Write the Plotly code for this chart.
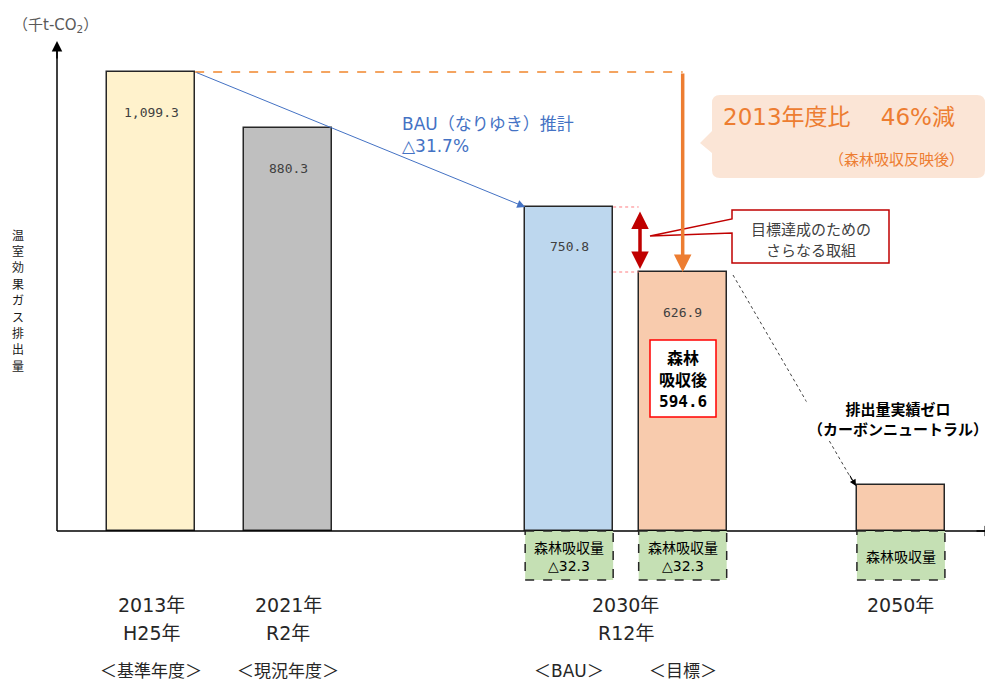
import plotly.graph_objects as go

# ---------------- data ----------------
categories = ["2013年", "2021年", "2030年 BAU", "2030年 目標", "2050年"]
emission_labels = ["1,099.3", "880.3", "750.8", "626.9", ""]
# drawn (schematic) bar heights, in 千t-CO2 scale
bar_heights = [1099.3, 965.0, 776.0, 620.3, 110.0]
bar_positions = [1.07, 2.63, 5.82, 7.11, 9.59]
bar_colors = ["#FFF2CC", "#BFBFBF", "#BDD7EE", "#F8CBAD", "#F8CBAD"]
absorption_labels = ["", "", "森林吸収量<br>△32.3", "森林吸収量<br>△32.3", "森林吸収量"]
year_labels = ["2013年", "2021年", "2030年", "2050年"]
era_labels = ["H25年", "R2年", "R12年"]
type_labels = ["＜基準年度＞", "＜現況年度＞", "＜BAU＞", "＜目標＞"]
bau_text = ["BAU（なりゆき）推計", "△31.7%"]
target_text = ["2013年度比　 46%減", "（森林吸収反映後）"]
after_absorption = ["森林", "吸収後", "594.6"]
extra_effort = ["目標達成のための", "さらなる取組"]
zero_text = "排出量実績ゼロ<br>（カーボンニュートラル）"
y_title = "温室効果ガス排出量"
unit_label = "（千t-CO<sub>2</sub>）"

# ---------------- geometry helpers (page pixels -> axis units) ----------------
PAGE_W, PAGE_H = 993, 684
OFF = 8                      # browser body margin
FW, FH = PAGE_W - OFF, PAGE_H - OFF
KX = 88.0            # one bar width in pixels
X0 = 57.0            # page pixel x of the vertical axis
KY = 1099.3 / 459.0  # value units per pixel
Y0 = 531.0           # page pixel y of the baseline


def X(px):
    return (px - X0) / KX


def Y(py):
    return (Y0 - py) * KY


def P(px, py):
    return f"{X(px):.4f},{Y(py):.4f}"


FONT = "DejaVu Sans, Noto Sans CJK JP, sans-serif"
CJK = "Noto Sans CJK JP, sans-serif"
MONO = "DejaVu Sans Mono, monospace"
DARK = "#262626"
ORANGE = "#ED7D31"
BLUE = "#4472C4"
RED = "#C00000"

fig = go.Figure()
fig.add_trace(go.Bar(
    x=bar_positions, y=bar_heights, width=1.0,
    marker=dict(color=bar_colors, line=dict(color="#262626", width=1.5)),
    hoverinfo="skip", showlegend=False,
))

shapes = []
ann = []


def text(x, y, s, size, color=DARK, family=FONT, bold=False, xanchor="center",
         align="center", **kw):
    if bold:
        s = "<b>" + s + "</b>"
    d = dict(x=x, y=y, xref="x", yref="y", text=s, showarrow=False,
             font=dict(size=size, color=color, family=family),
             xanchor=xanchor, yanchor="middle", align=align)
    d.update(kw)
    ann.append(d)


def arrow(x, y, ax, ay, color, width, size, **kw):
    d = dict(x=x, y=y, ax=ax, ay=ay, xref="x", yref="y", axref="x", ayref="y",
             text="", showarrow=True, arrowhead=2, arrowsize=size,
             arrowwidth=width, arrowcolor=color, font=dict(size=10))
    d.update(kw)
    ann.append(d)


# axes with arrows
shapes.append(dict(type="line", x0=0, y0=0, x1=0, y1=Y(50), xref="x", yref="y",
                   line=dict(color="black", width=1.5)))
shapes.append(dict(type="line", x0=0, y0=0, x1=X(985), y1=0, xref="x", yref="y",
                   line=dict(color="black", width=1.5)))
arrow(0, Y(41), 0, Y(60), "black", 1.5, 1.4)
arrow(X(995), 0, X(975), 0, "black", 1.5, 1.4)

# unit label and vertical title (upright stacked characters)
text(X(55), Y(25), unit_label, 15, color="#595959")
for i, ch in enumerate(y_title):
    text(X(18), Y(234 + i * 16.4), ch, 12, color="#1a1a1a", family=CJK, borderpad=0)

# bar value labels
for xp, h, lab in zip(bar_positions, bar_heights, emission_labels):
    if lab:
        text(xp, h - 40 * KY, lab, 13, color="#404040", family=MONO)

# forest absorption boxes (below baseline)
box_bottom = Y(580)
for xp, lab in zip(bar_positions, absorption_labels):
    if not lab:
        continue
    shapes.append(dict(type="rect", x0=xp - 0.5, x1=xp + 0.5, y0=0, y1=box_bottom,
                       xref="x", yref="y", fillcolor="#C5E0B4",
                       line=dict(color="#262626", width=1.5, dash="dash")))
    text(xp, Y(556.5), lab, 14, color="black", family=FONT)

# BAU trend arrow (blue)
arrow(bar_positions[2] - 0.5, bar_heights[2], bar_positions[0] + 0.5, bar_heights[0],
      BLUE, 1, 1.6)
text(X(400), Y(135), "<br>".join(bau_text), 17, color=BLUE, xanchor="left", align="left")

# orange dashed reference line and big arrow
shapes.append(dict(type="line", x0=bar_positions[0] + 0.5, y0=bar_heights[0],
                   x1=bar_positions[3], y1=bar_heights[0], xref="x", yref="y",
                   line=dict(color="#F4A460", width=2, dash="dash")))
arrow(bar_positions[3], bar_heights[3], bar_positions[3], bar_heights[0], ORANGE, 3.5, 1.0)

# orange callout
r = 8
call = (f"M {P(712 + r, 95)} L {P(985 - r, 95)} Q {P(985, 95)} {P(985, 95 + r)} "
        f"L {P(985, 178 - r)} Q {P(985, 178)} {P(985 - r, 178)} "
        f"L {P(712 + r, 178)} Q {P(712, 178)} {P(712, 178 - r)} "
        f"L {P(712, 153)} L {P(700, 143)} L {P(712, 131)} "
        f"L {P(712, 95 + r)} Q {P(712, 95)} {P(712 + r, 95)} Z")
shapes.append(dict(type="path", path=call, xref="x", yref="y",
                   fillcolor="#FBE5D6", line=dict(width=0)))
text(X(721), Y(117), target_text[0], 23, color=ORANGE, xanchor="left")
text(X(966), Y(160), target_text[1], 15, color=ORANGE, xanchor="right")

# red gap markers
for h in (bar_heights[2], bar_heights[3]):
    shapes.append(dict(type="line", x0=bar_positions[2] + 0.5, x1=bar_positions[3] - 0.5,
                       y0=h, y1=h, xref="x", yref="y",
                       line=dict(color="#FF7C80", width=1, dash="dot")))
arrow(X(640), bar_heights[3] + 3 * KY, X(640), bar_heights[2] - 3 * KY, RED, 3.5, 1.0,
      arrowside="end+start")

# red callout box with wedge
rc = (f"M {P(732, 210)} L {P(889, 210)} L {P(889, 263)} L {P(732, 263)} "
      f"L {P(732, 233)} L {P(650, 236)} L {P(732, 219)} Z")
shapes.append(dict(type="path", path=rc, xref="x", yref="y", fillcolor="white",
                   line=dict(color=RED, width=1.5)))
for k, ln in enumerate(extra_effort):
    text(X(811), Y(228 + 21.5 * k), ln, 15, color="#404040", family=CJK, borderpad=0)

# after-absorption box inside target bar
shapes.append(dict(type="rect", x0=X(650), x1=X(716), y0=Y(340), y1=Y(417),
                   xref="x", yref="y", fillcolor="white",
                   line=dict(color="#FF0000", width=1.5)))
for k, ln in enumerate(after_absorption):
    text(bar_positions[3], Y(357 + 22 * k), ln, 16, color="black",
         family=(MONO if k == 2 else CJK), bold=True, borderpad=0)

# dotted arrow to 2050
shapes.append(dict(type="line", x0=X(733), y0=Y(275), x1=X(852), y1=Y(480),
                   xref="x", yref="y", line=dict(color="#404040", width=1, dash="dot")))
ann.append(dict(x=X(856), y=Y(486), ax=-7, ay=-12, xref="x", yref="y", text="",
                showarrow=True, arrowhead=2, arrowsize=1.3, arrowwidth=1,
                arrowcolor="black", font=dict(size=10)))
text(X(898), Y(418), zero_text, 15, color="black", family=CJK, bold=True,
     bgcolor="white")

# category labels
year_x = [bar_positions[0], bar_positions[1],
          (bar_positions[2] + bar_positions[3]) / 2, bar_positions[4]]
for xp, lab in zip(year_x, year_labels):
    text(xp, Y(605), lab, 19, color=DARK)
for xp, lab in zip(year_x[:3], era_labels):
    text(xp, Y(633), lab, 19, color=DARK)
type_x = [bar_positions[0], bar_positions[1], bar_positions[2], bar_positions[3]]
for xp, lab in zip(type_x, type_labels):
    text(xp, Y(671), lab, 17, color=DARK, borderpad=0)

fig.update_layout(
    width=FW, height=FH,
    margin=dict(l=0, r=0, t=0, b=0),
    paper_bgcolor="white", plot_bgcolor="white",
    xaxis=dict(range=[X(OFF), X(PAGE_W)], visible=False, fixedrange=True),
    yaxis=dict(range=[Y(PAGE_H), Y(OFF)], visible=False, fixedrange=True),
    shapes=shapes, annotations=ann, showlegend=False, bargap=0,
)
fig.write_html("out.html")
